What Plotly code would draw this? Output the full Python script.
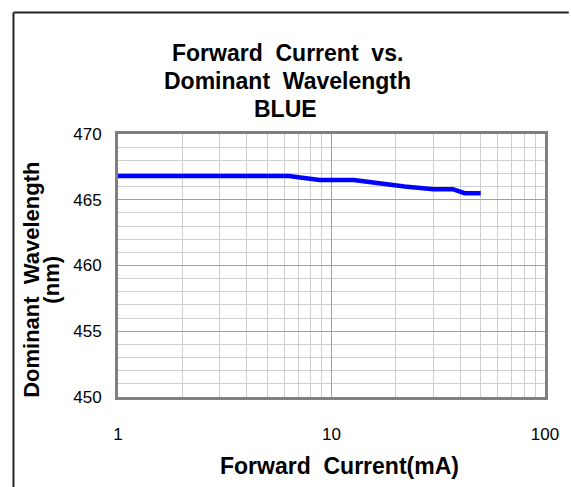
import plotly.graph_objects as go

# Forward current (mA) and dominant wavelength (nm) of the blue LED
current_ma = [1, 6.3, 8.8, 12.7, 22, 30, 37, 42, 50]
wavelength_nm = [466.8, 466.8, 466.5, 466.5, 466.0, 465.8, 465.8, 465.5, 465.5]

x_major = [1, 10, 100]
x_minor = [2, 3, 4, 5, 6, 7, 8, 9, 20, 30, 40, 50, 60, 70, 80, 90]
y_range = [450, 470]

W, H = 571, 487
L, R, T, B = 118, 22, 134, 90
pw, ph = W - L - R, H - T - B

def px(x):
    return (x - L) / pw

def py(y):
    return (H - B - y) / ph

fig = go.Figure()
fig.add_trace(go.Scatter(
    x=current_ma, y=wavelength_nm, mode="lines",
    line=dict(color="#0000ff", width=4.5),
    hoverinfo="skip", showlegend=False,
))

font = "Liberation Sans, Arial, sans-serif"
nb = "\u00a0"

fig.update_layout(
    width=W, height=H,
    margin=dict(l=L, r=R, t=T, b=B),
    paper_bgcolor="white", plot_bgcolor="white",
    font=dict(family=font, color="black", size=17),
    xaxis=dict(
        type="log", range=[0, 2],
        tickvals=x_major, ticktext=[str(v) for v in x_major],
        showgrid=True, gridcolor="#a0a0a0", gridwidth=1,
        minor=dict(tickvals=x_minor, showgrid=True, gridcolor="#cfcfcf", gridwidth=1, ticks=""),
        showline=True, linecolor="#808080", linewidth=3, mirror=True,
        ticks="", ticklabelstandoff=20, zeroline=False,
        tickfont=dict(size=17),
    ),
    yaxis=dict(
        range=y_range, dtick=5, tick0=450,
        showgrid=True, gridcolor="#a0a0a0", gridwidth=1,
        minor=dict(dtick=1, showgrid=True, gridcolor="#cfcfcf", gridwidth=1, ticks=""),
        showline=True, linecolor="#808080", linewidth=3, mirror=True,
        ticks="", ticklabelstandoff=10, zeroline=False,
        tickfont=dict(size=17),
    ),
    annotations=[
        dict(text=f"<b>Forward{nb} Current{nb} vs.</b>", x=px(289), y=py(53),
             xref="paper", yref="paper", showarrow=False, xanchor="center", yanchor="middle",
             font=dict(size=23)),
        dict(text=f"<b>Dominant{nb} Wavelength</b>", x=px(289), y=py(81),
             xref="paper", yref="paper", showarrow=False, xanchor="center", yanchor="middle",
             font=dict(size=23)),
        dict(text="<b>BLUE</b>", x=px(287), y=py(109),
             xref="paper", yref="paper", showarrow=False, xanchor="center", yanchor="middle",
             font=dict(size=23)),
        dict(text=f"<b>Forward{nb} Current(mA)</b>", x=px(342), y=py(466),
             xref="paper", yref="paper", showarrow=False, xanchor="center", yanchor="middle",
             font=dict(size=23)),
        dict(text=f"<b>Dominant{nb} Wavelength</b>", x=px(30), y=py(280),
             xref="paper", yref="paper", showarrow=False, xanchor="center", yanchor="middle",
             textangle=-90, font=dict(size=22)),
        dict(text="<b>(nm)</b>", x=px(50), y=py(280),
             xref="paper", yref="paper", showarrow=False, xanchor="center", yanchor="middle",
             textangle=-90, font=dict(size=22)),
    ],
    shapes=[
        dict(type="line", xref="paper", yref="paper", x0=px(12.5), x1=px(W + 2),
             y0=py(12.5), y1=py(12.5), line=dict(color="#222222", width=2)),
        dict(type="line", xref="paper", yref="paper", x0=px(12.5), x1=px(12.5),
             y0=py(12.5), y1=py(H + 2), line=dict(color="#222222", width=2)),
    ],
)

fig.write_html("out.html")
